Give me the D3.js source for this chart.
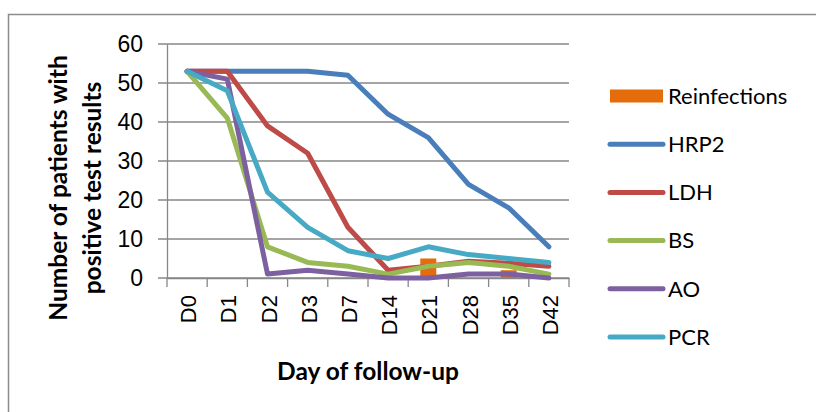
<!DOCTYPE html>
<html>
<head>
<meta charset="utf-8">
<script src="https://cdn.jsdelivr.net/npm/d3@7"></script>
<style>
  body { margin: 0; background: #fff; }
  svg { display: block; font-family: Lato, "Open Sans", sans-serif; }
</style>
</head>
<body>
<div id="chart"></div>
<script>
// values
const days = ['D0', 'D1', 'D2', 'D3', 'D7', 'D14', 'D21', 'D28', 'D35', 'D42'];
const reinfections = [0, 0, 0, 0, 0, 0, 5, 0, 2, 0];
const hrp2 = [53, 53, 53, 53, 52, 42, 36, 24, 18, 8];
const ldh = [53, 53, 39, 32, 13, 2, 3, 4.3, 3.8, 3];
const bs = [53, 41, 8, 4, 3, 1, 3, 4, 3, 1];
const ao = [53, 51, 1, 2, 1, 0, 0, 1, 1, 0];
const pcr = [53, 48, 22, 13, 7, 5, 8, 6, 5, 4];
const yTicks = [0, 10, 20, 30, 40, 50, 60];

const lineSeries = [
  { name: 'HRP2', values: hrp2, color: '#4a7ebb' },
  { name: 'LDH', values: ldh, color: '#be4b48' },
  { name: 'BS', values: bs, color: '#98b954' },
  { name: 'AO', values: ao, color: '#7d60a0' },
  { name: 'PCR', values: pcr, color: '#46aac5' }
];
const barColor = '#e46c0a';

const W = 816, H = 412;
const margin = { top: 44, left: 167, right: 247, bottom: 134 };
const width = W - margin.left - margin.right;
const height = H - margin.top - margin.bottom;

const svg = d3.select('#chart').append('svg')
    .attr('width', W)
    .attr('height', H);

// outer chart border (runs off the right/bottom edge)
svg.append('rect')
    .attr('x', 8.5).attr('y', 14.5)
    .attr('width', W).attr('height', H)
    .attr('fill', 'none')
    .attr('stroke', '#8c8c8c')
    .attr('stroke-width', 1.5);

const g = svg.append('g')
    .attr('transform', 'translate(' + margin.left + ',' + margin.top + ')');

// scales
const x = d3.scaleBand().domain(days).range([0, width]);
const y = d3.scaleLinear().domain([0, 60]).range([height, 0]);

// gridlines
g.append('g')
    .selectAll('line')
    .data(yTicks)
    .enter().append('line')
    .attr('x1', -9).attr('x2', width)
    .attr('y1', d => y(d)).attr('y2', d => y(d))
    .attr('stroke', '#878787')
    .attr('stroke-width', 1.3);

// y axis
const yAxis = g.append('g')
    .call(d3.axisLeft(y).tickValues(yTicks).tickSize(0).tickPadding(24));
yAxis.select('.domain').attr('stroke', '#878787').attr('stroke-width', 1.3);
yAxis.selectAll('text')
    .style('font-size', '23px')
    .attr('fill', '#000');

// x axis
const xAxis = g.append('g')
    .attr('transform', 'translate(0,' + height + ')')
    .call(d3.axisBottom(x).tickSize(0).tickFormat(''));
xAxis.select('.domain').attr('stroke', '#878787').attr('stroke-width', 1.3);
xAxis.append('g')
    .selectAll('line')
    .data(days.concat(['end']))
    .enter().append('line')
    .attr('x1', (d, i) => i * x.step()).attr('x2', (d, i) => i * x.step())
    .attr('y1', 0).attr('y2', 9)
    .attr('stroke', '#878787')
    .attr('stroke-width', 1.3);

xAxis.append('g')
    .selectAll('text')
    .data(days)
    .enter().append('text')
    .attr('transform', d => 'translate(' + (x(d) + x.bandwidth() / 2 + 9) + ',17) rotate(-90)')
    .attr('text-anchor', 'end')
    .style('font-size', '22px')
    .attr('fill', '#000')
    .text(d => d);

// axis titles
svg.append('text')
    .attr('x', margin.left + width / 2)
    .attr('y', 380)
    .attr('text-anchor', 'middle')
    .style('font-size', '24.5px')
    .style('font-weight', 'bold')
    .text('Day of follow-up');

const yTitle = svg.append('text')
    .attr('transform', 'translate(0,188) rotate(-90)')
    .attr('text-anchor', 'middle')
    .style('font-size', '24.5px')
    .style('font-weight', 'bold');
yTitle.append('tspan').attr('x', 0).attr('y', 67).text('Number of patients with');
yTitle.append('tspan').attr('x', 0).attr('y', 101).text('positive test results');

// reinfection bars
const barW = 16;
g.append('g')
    .selectAll('rect')
    .data(reinfections)
    .enter().append('rect')
    .attr('x', (d, i) => x(days[i]) + x.bandwidth() / 2 - barW / 2)
    .attr('width', barW)
    .attr('y', d => y(d))
    .attr('height', d => y(0) - y(d))
    .attr('fill', barColor);

// lines
const line = d3.line()
    .x((d, i) => x(days[i]) + x.bandwidth() / 2)
    .y(d => y(d));

g.append('g')
    .selectAll('path')
    .data(lineSeries)
    .enter().append('path')
    .attr('d', d => line(d.values))
    .attr('fill', 'none')
    .attr('stroke', d => d.color)
    .attr('stroke-width', 5)
    .attr('stroke-linejoin', 'round')
    .attr('stroke-linecap', 'round');

// legend
const legend = svg.append('g').attr('transform', 'translate(608,96)');
const rowH = 48.2;
legend.append('rect')
    .attr('x', 2).attr('y', -6.5)
    .attr('width', 53).attr('height', 13)
    .attr('fill', barColor);
legend.append('text')
    .attr('x', 60).attr('y', 0)
    .attr('dy', '0.35em')
    .style('font-size', '22px')
    .text('Reinfections');

const items = legend.selectAll('g.item')
    .data(lineSeries)
    .enter().append('g')
    .attr('class', 'item')
    .attr('transform', (d, i) => 'translate(0,' + (i + 1) * rowH + ')');
items.append('line')
    .attr('x1', 2).attr('x2', 55)
    .attr('stroke', d => d.color)
    .attr('stroke-width', 5)
    .attr('stroke-linecap', 'round');
items.append('text')
    .attr('x', 60)
    .attr('dy', '0.35em')
    .style('font-size', '22px')
    .text(d => d.name);
</script>
</body>
</html>
